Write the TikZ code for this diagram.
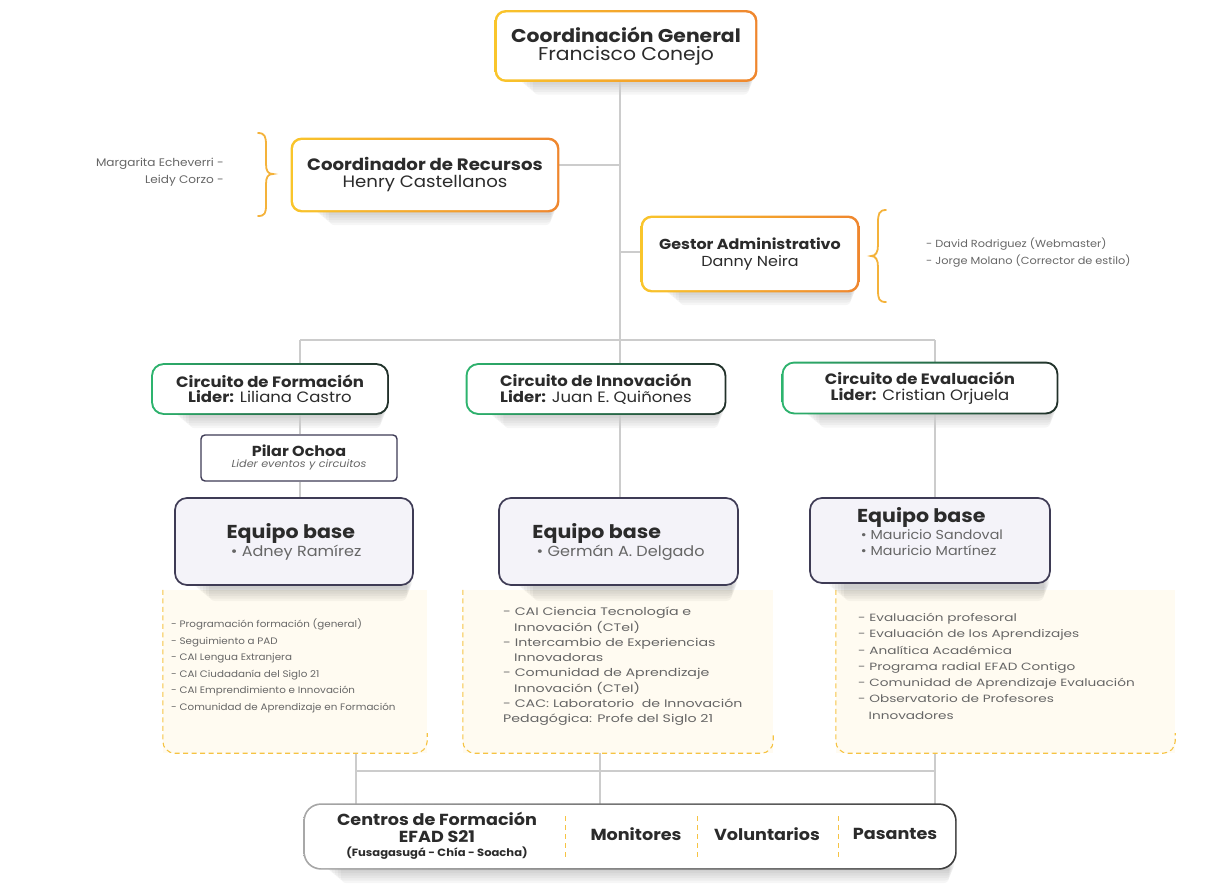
\documentclass[tikz,border=0pt]{standalone}
\usepackage{fontspec}
\setmainfont{Poppins}[FakeStretch=1.1]
\newfontfamily\listfont{Poppins}[FakeStretch=1.3]
\usetikzlibrary{backgrounds}

\definecolor{ylw}{HTML}{F9C52B}
\definecolor{org}{HTML}{EF862E}
\definecolor{grn}{HTML}{2DB46E}
\definecolor{dkg}{HTML}{22302A}
\definecolor{teamc}{HTML}{3E3B55}
\definecolor{teamf}{HTML}{F4F3F9}
\definecolor{cream}{HTML}{FFFBF1}
\definecolor{dashc}{HTML}{F6C343}
\definecolor{lineg}{HTML}{CCCCCC}
\definecolor{txtd}{HTML}{2B2B2B}
\definecolor{txtg}{HTML}{666666}
\definecolor{bracec}{HTML}{F4B23A}
\definecolor{basel}{HTML}{A8A8A8}
\definecolor{baser}{HTML}{3C3C3C}

\tikzset{
  mainbox/.style={rounded corners=9pt, fill=white, inner sep=0pt, align=center, text=txtd},
  circbox/.style={rounded corners=11pt, fill=white, inner sep=0pt, align=center, text=txtd},
  teambox/.style={rounded corners=12pt, draw=teamc, line width=1.7pt, fill=teamf, inner sep=0pt, align=left, text=txtd},
  listbg/.style={fill=cream, inner sep=0pt},
  listtext/.style={anchor=north west, align=left, text=txtg, inner sep=0pt},
  sidetext/.style={inner sep=0pt, text=txtg},
  dashline/.style={draw=dashc, line width=1.1pt, dash pattern=on 5pt off 3.5pt, rounded corners=12pt},
  conn/.style={draw=lineg, line width=1.2pt},
  bracel/.style={draw=bracec, line width=1.8pt, line cap=round},
  bottxt/.style={inner sep=0pt, align=center, text=txtd, font=\fontsize{16}{16.5}\selectfont\bfseries},
  shadowstep/.style={fill=black, opacity=0.035, rounded corners=6pt},
}

\begin{document}
\begin{tikzpicture}[x=1pt, y=-1pt]
\useasboundingbox (0,0) rectangle (1224,891);

% top level
\node[mainbox, minimum width=258, minimum height=67, font=\fontsize{18.5}{18}\selectfont] (coord) at (626,46)
  {{\bfseries Coordinación General}\\Francisco Conejo};
\node[mainbox, minimum width=264, minimum height=70, font=\fontsize{16.5}{17}\selectfont] (recur) at (425,175)
  {{\bfseries Coordinador de Recursos}\\Henry Castellanos};
\node[mainbox, minimum width=214, minimum height=72, font=\fontsize{14.5}{17}\selectfont] (gestor) at (750,254)
  {{\bfseries Gestor Administrativo}\\Danny Neira};

\node[sidetext, anchor=east, align=right, font=\fontsize{11}{17}\selectfont] (apoyor) at (224,172) {Margarita Echeverri -\\Leidy Corzo -};
\node[sidetext, anchor=west, align=left, font=\fontsize{10.3}{17}\selectfont] (apoyog) at (926,253) {- David Rodriguez (Webmaster)\\- Jorge Molano (Corrector de estilo)};

% braces
\draw[bracel] (258,133) .. controls (265,133) and (266,137) .. (266,145) -- (266,164)
  .. controls (266,171) and (268,174) .. (273,174) .. controls (268,174) and (266,177) .. (266,184)
  -- (266,205) .. controls (266,213) and (265,216) .. (258,216);
\draw[bracel] (886,210) .. controls (879,210) and (878,214) .. (878,223) -- (878,245)
  .. controls (878,252) and (876,256) .. (871,256) .. controls (876,256) and (878,260) .. (878,267)
  -- (878,290) .. controls (878,299) and (879,302) .. (886,302);

% circuits
\node[circbox, minimum width=234, minimum height=48, font=\fontsize{15}{15.5}\selectfont] (cform) at (270,389)
  {{\bfseries Circuito de Formación}\\{\bfseries Lider:} Liliana Castro};
\node[circbox, minimum width=257, minimum height=48, font=\fontsize{15}{15.5}\selectfont] (cinno) at (596,389)
  {{\bfseries Circuito de Innovación}\\{\bfseries Lider:} Juan E. Quiñones};
\node[circbox, minimum width=273, minimum height=49, font=\fontsize{15}{15.5}\selectfont] (ceval) at (920,388)
  {{\bfseries Circuito de Evaluación}\\{\bfseries Lider:} Cristian Orjuela};

\node[rounded corners=4pt, draw=teamc, line width=1.4pt, fill=white, inner sep=0pt, align=center, text=txtd,
  minimum width=196, minimum height=46] (pilar) at (299,458)
  {{\fontsize{14.5}{15}\selectfont\bfseries Pilar Ochoa}\\[-1pt]{\fontsize{10.2}{10}\selectfont\itshape\color{txtg} Lider eventos y circuitos}};

% list backgrounds
\node[listbg, minimum width=264, minimum height=163] (bxf) at (295,671.5) {};
\node[listbg, minimum width=310, minimum height=163] (bxi) at (618,671.5) {};
\node[listbg, minimum width=339, minimum height=163] (bxe) at (1005.5,671.5) {};
\foreach \b in {bxf,bxi,bxe}
  \draw[dashline] (\b.north west) |- (\b.south east) -- ++(0,-20);

% shadows of the team boxes
\foreach \x/\w in {294/238,618.5/239,930/240}
  \foreach \k in {1,...,6}
    \fill[shadowstep] (\x-\w/2+16+3*\k,570) rectangle (\x+\w/2-\k,586+2.5*\k);

% equipos base
\node[teambox, minimum width=238, minimum height=87, font=\fontsize{14.6}{18}\selectfont] (eqf) at (294,541.5)
  {{\fontsize{18.7}{22}\selectfont\bfseries Equipo base}\\{\color{txtg}\ • Adney Ramírez}};
\node[teambox, minimum width=239, minimum height=87, font=\fontsize{14.6}{18}\selectfont] (eqi) at (618.5,541.5)
  {{\fontsize{18.7}{22}\selectfont\bfseries Equipo base}\\{\color{txtg}\ • Germán A. Delgado}};
\node[teambox, minimum width=240, minimum height=85, font=\fontsize{13}{16}\selectfont] (eqe) at (930,540.5)
  {{\fontsize{18.7}{20}\selectfont\bfseries Equipo base}\\[1pt]{\color{txtg}\ • Mauricio Sandoval}\\{\color{txtg}\ • Mauricio Martínez}\\[2pt]};

% lists
\node[listtext, font=\fontsize{9.4}{16.5}\selectfont] (lsf) at (171,619) {- Programación formación (general)\\- Seguimiento a PAD\\- CAI Lengua Extranjera\\- CAI Ciudadanía del Siglo 21\\- CAI Emprendimiento e Innovación\\- Comunidad de Aprendizaje en Formación};
\node[listtext, font=\listfont\fontsize{10.9}{15.3}\selectfont] (lsi) at (503,607) {- CAI Ciencia Tecnología e\\\hspace*{1em}Innovación (CTeI)\\- Intercambio de Experiencias\\\hspace*{1em}Innovadoras\\- Comunidad de Aprendizaje\\\hspace*{1em}Innovación (CTeI)\\- CAC: Laboratorio\ \ de Innovación\\Pedagógica: Profe del Siglo 21};
\node[listtext, font=\listfont\fontsize{10.5}{16.3}\selectfont] (lse) at (858,613) {- Evaluación profesoral\\- Evaluación de los Aprendizajes\\- Analítica Académica\\- Programa radial EFAD Contigo\\- Comunidad de Aprendizaje Evaluación\\- Observatorio de Profesores\\\hspace*{1em}Innovadores};

% bottom
\node[rounded corners=16pt, fill=white, inner sep=0pt, minimum width=650, minimum height=63] (base) at (630,836.5) {};
\node[bottxt] (centros) at (437,836) {Centros de Formación\\EFAD S21\\[-2pt]{\fontsize{10.5}{9}\selectfont (Fusagasugá - Chía - Soacha)}};
\node[bottxt] (monit) at (636,834) {Monitores};
\node[bottxt] (volun) at (767,834) {Voluntarios};
\node[bottxt] (pasan) at (895,834) {Pasantes};
\foreach \x in {565,697,838}
  \draw[draw=dashc, line width=1pt, dash pattern=on 5pt off 4pt] (\x,816) -- (\x,858);

% connectors
\coordinate (trunk) at (620,340);
\coordinate (jr) at (620,165);
\coordinate (jg) at (620,252);
\coordinate (hl) at (300,340);
\coordinate (hr) at (935,340);
\coordinate (bl) at (356,771);
\coordinate (bm) at (600,771);
\coordinate (br) at (935,771);
\begin{scope}[on background layer]
% soft shadows
\foreach \n in {coord,recur,gestor,cform,cinno,ceval,base}
  \foreach \k in {1,...,6}
    \fill[shadowstep] ([shift={(18+3*\k,-12)}]\n.south west) rectangle ([shift={(-\k,2.5*\k)}]\n.south east);
\draw[conn] (coord.south -| trunk) -- (cinno.north -| trunk);
\draw[conn] (jr) -- (recur.east |- jr);
\draw[conn] (jg) -- (gestor.west |- jg);
\draw[conn] (hl) -- (hr);
\draw[conn] (hl) -- (cform.north -| hl);
\draw[conn] (hr) -- (ceval.north -| hr);
\draw[conn] (cform.south -| hl) -- (pilar.north -| hl);
\draw[conn] (pilar.south -| hl) -- (eqf.north -| hl);
\draw[conn] (cinno.south -| trunk) -- (eqi.north -| trunk);
\draw[conn] (ceval.south -| hr) -- (eqe.north -| hr);
\draw[conn] (bl) -- (br);
\foreach \c/\b in {bl/bxf,bm/bxi,br/bxe}
  \draw[conn] (\b.south -| \c) -- (base.north -| \c);
% gradient rims
\foreach \n/\r in {coord/10.8,recur/10.8,gestor/10.8}
  \shade[left color=ylw, right color=org, rounded corners=\r pt]
    ([shift={(-2.2,-2.2)}]\n.north west) rectangle ([shift={(2.2,2.2)}]\n.south east);
\foreach \n in {cform,cinno,ceval}
  \shade[left color=grn, right color=dkg, rounded corners=12.5pt]
    ([shift={(-1.7,-1.7)}]\n.north west) rectangle ([shift={(1.7,1.7)}]\n.south east);
\shade[left color=basel, right color=baser, rounded corners=17.5pt]
  ([shift={(-1.5,-1.5)}]base.north west) rectangle ([shift={(1.5,1.5)}]base.south east);
\end{scope}
\end{tikzpicture}
\end{document}
